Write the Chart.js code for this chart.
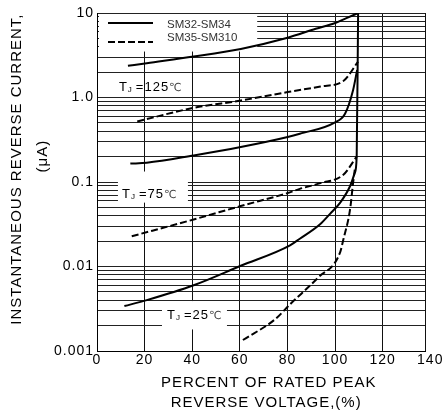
<!DOCTYPE html>
<html>
<head>
<meta charset="utf-8">
<script src="https://cdn.jsdelivr.net/npm/chart.js@4"></script>
<style>
  body { margin: 0; background: #fff; }
  canvas { display: block; }
</style>
</head>
<body>
<canvas id="chart" width="444" height="411"></canvas>
<script>
// ---------- Data ----------
const xTicks = [0, 20, 40, 60, 80, 100, 120, 140];
const xFrameEnd = 137.8; // the frame stops a little short of 140 in the original
const yDecades = [0.001, 0.01, 0.1, 1, 10];
const yDecadeLabels = ['0.001', '0.01', '0.1', '1.0', '10'];
const legendLabels = ['SM32-SM34', 'SM35-SM310'];
const tempLabels = ['125', '75', '25'];

// [percent, current uA]
const solid125 = [[13, 2.37], [20.9, 2.55], [40.6, 3.05], [60.4, 3.76], [80.1, 5.1], [91.9, 6.5], [99.8, 7.55], [104.8, 8.7], [109.7, 10]];
const dashed125 = [[16.9, 0.52], [40.6, 0.755], [60.4, 0.92], [80.1, 1.16], [93.9, 1.35], [103.5, 1.57], [109.7, 2.66]];
const solid75 = [[14, 0.165], [20.9, 0.169], [40.6, 0.206], [60.4, 0.259], [80.1, 0.34], [85.2, 0.372], [99.8, 0.505], [104.2, 0.643], [107.6, 1.23], [109.3, 2.12]];
const dashed75 = [[14.6, 0.0228], [40.6, 0.036], [60.4, 0.052], [80.1, 0.074], [85.2, 0.083], [93.9, 0.097], [103.5, 0.122], [109.1, 0.2]];
const solid25 = [[11.5, 0.0034], [20.9, 0.004], [40.6, 0.006], [60.4, 0.0102], [81.1, 0.0178], [85.2, 0.0213], [93.6, 0.0314], [97.9, 0.042], [102.1, 0.0566], [106.3, 0.089], [108.3, 0.128], [109.1, 0.2], [109.7, 10]];
const dashed25 = [[61.3, 0.00135], [74.8, 0.00237], [81.1, 0.00357], [92.9, 0.0074], [102.1, 0.0146], [103.5, 0.0209], [106.3, 0.047], [107.6, 0.098], [108.3, 0.14]];

// log grid: 1..9 in every decade
const yGrid = [];
yDecades.slice(0, -1).forEach(d => { for (let m = 1; m < 10; m++) yGrid.push(+(d * m).toPrecision(3)); });
yGrid.push(10);

const FONT = '"Liberation Sans", Arial, sans-serif';
const DASH = [7, 3];

function series(points, dashed, label) {
  return {
    label: label,
    data: points.map(p => ({ x: p[0], y: p[1] })),
    borderColor: '#000',
    borderWidth: 2,
    borderDash: dashed ? DASH : [],
    pointRadius: 0,
    fill: false,
    cubicInterpolationMode: 'monotone'
  };
}

// ---------- Overlay: white boxes, legend, T_J labels ----------
const overlay = {
  id: 'overlay',
  beforeDraw(chart) {
    // the reference lettering is slightly spread out
    chart.ctx.letterSpacing = '1px';
  },
  beforeDatasetsDraw(chart) {
    const { ctx, scales: { x, y }, chartArea: a } = chart;
    ctx.save();
    ctx.fillStyle = '#fff';
    // legend box (leaves short tick stubs on the axis)
    ctx.fillRect(a.left + 2, a.top + 1, x.getPixelForValue(67.3) - a.left - 2, y.getPixelForValue(3.5) - a.top - 1);
    // label boxes for 75 and 25
    const box = (x0, x1, y0, y1) => {
      const px0 = x.getPixelForValue(x0), px1 = x.getPixelForValue(x1);
      const py0 = y.getPixelForValue(y0), py1 = y.getPixelForValue(y1);
      ctx.fillRect(px0, py0, px1 - px0, py1 - py0);
    };
    box(8.8, 38.2, 0.133, 0.057);
    box(27.3, 54.6, 0.0039, 0.0018);
    ctx.restore();
  },
  afterDatasetsDraw(chart) {
    const { ctx, scales: { x, y }, chartArea: a } = chart;
    ctx.save();
    // legend
    const ds = chart.data.datasets;
    ctx.letterSpacing = '0px';
    [[ds[0], 23, 25], [ds[1], 42, 38]].forEach((row, i) => {
      ctx.beginPath();
      ctx.setLineDash(row[0].borderDash);
      ctx.lineWidth = 2;
      ctx.strokeStyle = '#000';
      ctx.moveTo(a.left + 11, row[1]);
      ctx.lineTo(a.left + 56, row[1]);
      ctx.stroke();
      ctx.setLineDash([]);
      ctx.font = '11.5px ' + FONT;
      ctx.fillStyle = '#333';
      ctx.textBaseline = 'middle';
      ctx.fillText(legendLabels[i], a.left + 70, row[2]);
    });
    // T_J labels
    ctx.letterSpacing = '1px';
    const anchors = [[9.2, 1.37], [10.5, 0.075], [29.4, 0.00272]];
    tempLabels.forEach((t, i) => {
      let px = x.getPixelForValue(anchors[i][0]);
      const py = y.getPixelForValue(anchors[i][1]) + 5;
      ctx.fillStyle = '#000';
      ctx.textBaseline = 'alphabetic';
      ctx.font = '13px ' + FONT;
      ctx.fillText('T', px, py);
      px += ctx.measureText('T').width;
      ctx.font = '8px ' + FONT;
      ctx.fillText('J', px, py + 1);
      px += ctx.measureText('J').width + 3;
      ctx.font = '13px ' + FONT;
      ctx.fillText('=' + t, px, py);
      px += ctx.measureText('=' + t).width;
      ctx.font = '11px "DejaVu Sans", sans-serif';
      ctx.fillStyle = '#444';
      ctx.fillText('\u2103', px, py);
    });
    ctx.restore();
  }
};

// ---------- Chart ----------
new Chart(document.getElementById('chart').getContext('2d'), {
  type: 'line',
  data: {
    datasets: [
      series(solid125, false, legendLabels[0]),
      series(dashed125, true, legendLabels[1]),
      series(solid75, false, '75 solid'),
      series(dashed75, true, '75 dashed'),
      series(solid25, false, '25 solid'),
      series(dashed25, true, '25 dashed')
    ]
  },
  options: {
    responsive: false,
    animation: false,
    devicePixelRatio: 1,
    layout: { padding: { top: 13, right: 19, left: 0, bottom: 0 } },
    plugins: { legend: { display: false }, tooltip: { enabled: false } },
    scales: {
      x: {
        type: 'linear',
        min: xTicks[0],
        max: xFrameEnd,
        afterBuildTicks: s => {
          const vals = xTicks.filter(v => v < xFrameEnd).concat([xFrameEnd], xTicks.filter(v => v > xFrameEnd));
          s.ticks = vals.map(v => ({ value: v }));
        },
        ticks: {
          font: { family: FONT, size: 14 },
          color: '#000',
          padding: 1,
          maxRotation: 0,
          autoSkip: false,
          callback: v => (xTicks.includes(v) ? String(v) : '')
        },
        grid: {
          color: c => (c.tick && c.tick.value > xFrameEnd ? 'rgba(0,0,0,0)' : '#111'),
          lineWidth: 1,
          drawTicks: false
        },
        border: { color: '#000', width: 1 },
        title: {
          display: true,
          text: ['   PERCENT OF RATED PEAK', '  REVERSE VOLTAGE,(%)'],
          font: { family: FONT, size: 15, lineHeight: 1.333 },
          color: '#000',
          padding: { top: 0, bottom: -2 }
        },
        afterFit: s => { s.height = 60; }
      },
      y: {
        type: 'logarithmic',
        min: 0.001,
        max: 10,
        afterBuildTicks: s => { s.ticks = yGrid.map(v => ({ value: v })); },
        ticks: {
          autoSkip: false,
          font: { family: FONT, size: 14 },
          color: '#000',
          padding: 3,
          callback: v => {
            const i = yDecades.findIndex(d => Math.abs(d - v) < d * 1e-6);
            return i >= 0 ? yDecadeLabels[i] : '';
          }
        },
        grid: { color: '#222', lineWidth: 1, drawTicks: false },
        border: { color: '#000', width: 1 },
        title: {
          display: true,
          text: ['     INSTANTANEOUS REVERSE CURRENT,', '          (\u03bcA)'],
          font: { family: FONT, size: 15, lineHeight: 1.733 },
          color: '#000',
          padding: { top: 4, bottom: 0 }
        },
        afterFit: s => { s.width = 97; }
      }
    }
  },
  plugins: [overlay]
});
</script>
</body>
</html>
